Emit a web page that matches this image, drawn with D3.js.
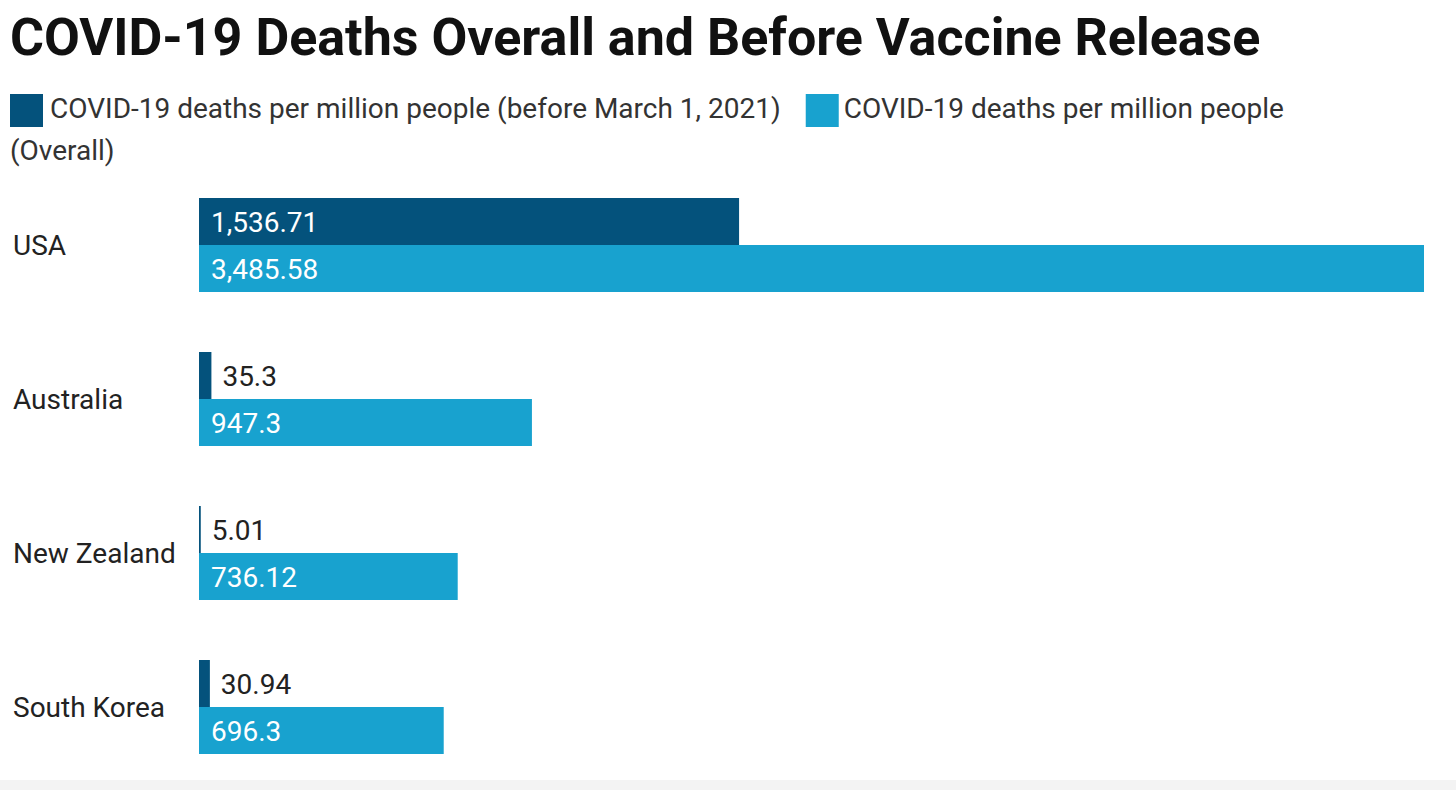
<!DOCTYPE html>
<html>
<head>
<meta charset="utf-8">
<script src="https://cdn.jsdelivr.net/npm/d3@7"></script>
<style>
  html, body { margin: 0; padding: 0; background: #fff; }
  svg { display: block; font-family: Roboto, "Noto Sans", sans-serif; }
</style>
</head>
<body>
<svg id="chart" width="1456" height="790"></svg>
<script>
const title = "COVID-19 Deaths Overall and Before Vaccine Release";
const categories = ["USA", "Australia", "New Zealand", "South Korea"];
const beforeVaccine = [1536.71, 35.3, 5.01, 30.94];
const overall = [3485.58, 947.3, 736.12, 696.3];
const valueLabels1 = ["1,536.71", "35.3", "5.01", "30.94"];
const valueLabels2 = ["3,485.58", "947.3", "736.12", "696.3"];
const seriesNames = ["COVID-19 deaths per million people (before March 1, 2021)", "COVID-19 deaths per million people (Overall)"];
const colors = ["#04527c", "#18a2cf"];

const svg = d3.select("#chart");
const W = 1456, H = 790;

// bottom strip
svg.append("rect").attr("x", 0).attr("y", 780).attr("width", W).attr("height", 10).attr("fill", "#f3f3f3");

// title
svg.append("text").attr("x", 10).attr("y", 55)
  .attr("font-size", 52).attr("font-weight", 700).attr("fill", "#111")
  .text(title);

// legend
const lg = svg.append("g").attr("font-size", 28).attr("fill", "#333");
const sq = 33;
let lx = 10;
const ly = 118;
lg.append("rect").attr("x", lx).attr("y", 94).attr("width", sq).attr("height", sq).attr("fill", colors[0]);
const t1 = lg.append("text").attr("x", lx + sq + 7).attr("y", ly).text(seriesNames[0]);
const w1 = t1.node().getComputedTextLength();
lx = lx + sq + 7 + w1 + 25;
lg.append("rect").attr("x", lx).attr("y", 94).attr("width", sq).attr("height", sq).attr("fill", colors[1]);
lg.append("text").attr("x", lx + sq + 5).attr("y", ly).text("COVID-19 deaths per million people");
lg.append("text").attr("x", 10).attr("y", ly + 42).text("(Overall)");

// scales
const x = d3.scaleLinear().domain([0, d3.max(overall)]).range([199, 1424]);
const y = d3.scaleBand().domain(categories).range([198, 754]).paddingInner(60 / 154).paddingOuter(0);
const bh = y.bandwidth() / 2;

const rows = categories.map((c, i) => ({ c, v: [beforeVaccine[i], overall[i]], l: [valueLabels1[i], valueLabels2[i]] }));

const g = svg.append("g");
// category labels
g.selectAll("text.cat").data(rows).join("text")
  .attr("class", "cat")
  .attr("x", 13).attr("y", d => y(d.c) + y.bandwidth() / 2)
  .attr("dy", "0.35em")
  .attr("font-size", 28).attr("fill", "#222")
  .text(d => d.c);

[0, 1].forEach(s => {
  g.selectAll("rect.s" + s).data(rows).join("rect")
    .attr("class", "s" + s)
    .attr("x", x(0)).attr("y", d => y(d.c) + s * bh)
    .attr("width", d => x(d.v[s]) - x(0)).attr("height", bh)
    .attr("fill", colors[s]);
  g.selectAll("text.l" + s).data(rows).join("text")
    .attr("class", "l" + s)
    .attr("font-size", 28)
    .attr("y", d => y(d.c) + s * bh + bh / 2).attr("dy", "0.36em")
    .each(function (d) {
      const el = d3.select(this).text(d.l[s]);
      const wText = this.getComputedTextLength();
      const barW = x(d.v[s]) - x(0);
      if (barW > wText + 26) {
        el.attr("x", x(0) + 12).attr("fill", "#fff");
      } else {
        el.attr("x", x(d.v[s]) + 11).attr("fill", "#222");
      }
    });
});
</script>
</body>
</html>
